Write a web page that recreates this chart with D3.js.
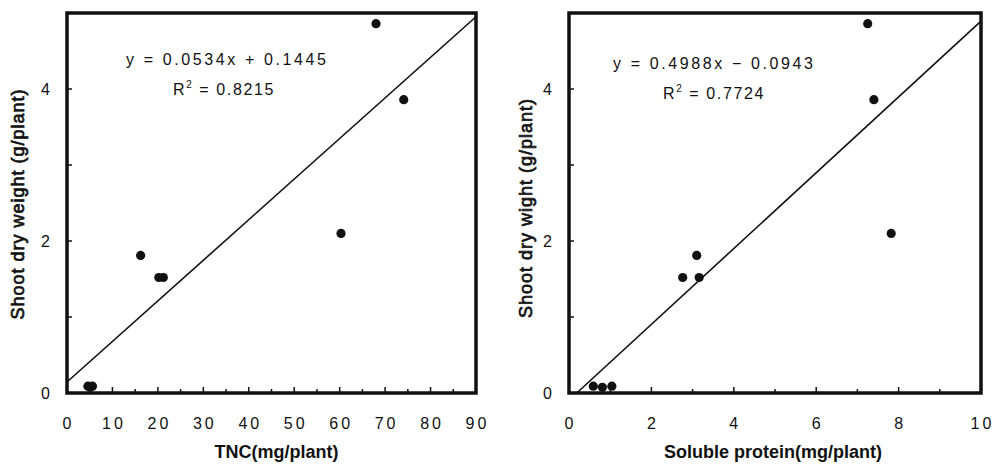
<!DOCTYPE html>
<html><head><meta charset="utf-8">
<script src="https://cdn.jsdelivr.net/npm/d3@7"></script>
<style>
body{margin:0;background:#fff;}
text{font-family:"Liberation Sans",Arial,sans-serif;fill:#111;}
</style></head>
<body>
<svg id="c" width="993" height="466"></svg>
<script>
// ---- data ----
const shootWeight = [4.86, 3.86, 2.10, 1.81, 1.52, 1.52, 0.09, 0.075, 0.09];
const tnc = [68.0, 74.1, 60.3, 16.2, 20.2, 21.2, 4.6, 5.1, 5.6];
const protein = [7.25, 7.40, 7.82, 3.10, 2.76, 3.16, 0.59, 0.81, 1.04];
const tncTicks = [0, 10, 20, 30, 40, 50, 60, 70, 80, 90];
const proteinTicks = [0, 2, 4, 6, 8, 10];
const yTicks = [0, 2, 4];
const fitLeft = {slope: 0.0534, intercept: 0.1445, r2: "0.8215", eq: "y = 0.0534x + 0.1445"};
const fitRight = {slope: 0.4988, intercept: -0.0943, r2: "0.7724", eq: "y = 0.4988x \u2212 0.0943"};

const svg = d3.select("#c");

function panel(cfg) {
  const x = d3.scaleLinear().domain(cfg.xDomain).range([cfg.x0, cfg.x1]);
  const y = d3.scaleLinear().domain([0, 5]).range([393, 13]);
  const g = svg.append("g");

  // x ticks (inward), major + minor
  const minorX = d3.range(cfg.xDomain[0], cfg.xDomain[1] + 1e-9, cfg.minorStep);
  g.selectAll(".mx").data(minorX).join("line")
    .attr("x1", d => x(d)).attr("x2", d => x(d))
    .attr("y1", 393).attr("y2", d => cfg.xTicks.some(t => Math.abs(t - d) < 1e-9) ? 387 : 389)
    .attr("stroke", "#111").attr("stroke-width", 1.5);
  g.selectAll(".xl").data(cfg.xTicks).join("text")
    .attr("x", d => x(d)).attr("y", 429)
    .attr("text-anchor", "middle").attr("font-size", 16).attr("letter-spacing", 3)
    .attr("dx", 1.5)
    .text(d => d);

  // y ticks (inward)
  const minorY = [1, 3];
  g.selectAll(".my").data(minorY.concat(yTicks)).join("line")
    .attr("x1", cfg.x0).attr("x2", cfg.x0 + 5)
    .attr("y1", d => y(d)).attr("y2", d => y(d))
    .attr("stroke", "#111").attr("stroke-width", 1.5);
  g.selectAll(".yl").data(yTicks).join("text")
    .attr("x", cfg.x0 - 17).attr("y", d => y(d) + 6)
    .attr("text-anchor", "end").attr("font-size", 16)
    .text(d => d);

  // frame
  g.append("rect").attr("x", cfg.x0).attr("y", 13)
    .attr("width", cfg.x1 - cfg.x0).attr("height", 393 - 13)
    .attr("fill", "none").attr("stroke", "#111").attr("stroke-width", 3.5);

  // regression line
  const f = cfg.fit;
  let xs = cfg.xDomain[0];
  if (f.slope * xs + f.intercept < 0) xs = -f.intercept / f.slope;
  const xe = cfg.xDomain[1];
  g.append("line")
    .attr("x1", x(xs)).attr("y1", y(f.slope * xs + f.intercept))
    .attr("x2", x(xe)).attr("y2", y(f.slope * xe + f.intercept))
    .attr("stroke", "#111").attr("stroke-width", 1.6);

  // points
  g.selectAll(".pt").data(cfg.xs.map((v, i) => [v, shootWeight[i]])).join("circle")
    .attr("cx", d => x(d[0])).attr("cy", d => y(d[1])).attr("r", 4.6)
    .attr("fill", "#111");

  // equation text
  g.append("text").attr("x", cfg.eqX).attr("y", cfg.eqY)
    .attr("font-size", 16).attr("textLength", 200).attr("lengthAdjust", "spacing")
    .text(f.eq);
  const r = g.append("text").attr("x", cfg.rX).attr("y", cfg.eqY + 30)
    .attr("font-size", 16).attr("letter-spacing", 1.6);
  r.append("tspan").text("R");
  r.append("tspan").attr("font-size", 10).attr("dy", -7).text("2");
  r.append("tspan").attr("dy", 7).text(" = " + f.r2);

  // axis titles
  g.append("text").attr("x", (cfg.x0 + cfg.x1) / 2 + cfg.xtOff).attr("y", 458)
    .attr("text-anchor", "middle").attr("font-size", 18).attr("font-weight", "bold")
    .text(cfg.xTitle);
  g.append("text").attr("transform", `translate(${cfg.ytX},${cfg.ytY}) rotate(-90)`)
    .attr("text-anchor", "middle").attr("font-size", 18)
    .attr("stroke", "#111").attr("stroke-width", 0.7)
    .attr("letter-spacing", 1)
    .text(cfg.yTitle);
}

panel({xDomain: [0, 90], x0: 67, x1: 476, minorStep: 5, xTicks: tncTicks, xs: tnc,
  fit: fitLeft, eqX: 126, eqY: 65, rX: 173,
  xTitle: "TNC(mg/plant)", xtOff: 5, yTitle: "Shoot dry weight  (g/plant)", ytX: 24, ytY: 204});
panel({xDomain: [0, 10], x0: 569, x1: 981, minorStep: 1, xTicks: proteinTicks, xs: protein,
  fit: fitRight, eqX: 613, eqY: 69, rX: 663,
  xTitle: "Soluble  protein(mg/plant)", xtOff: -2, yTitle: "Shoot dry wight  (g/plant)", ytX: 532, ytY: 208});
</script>
</body></html>
